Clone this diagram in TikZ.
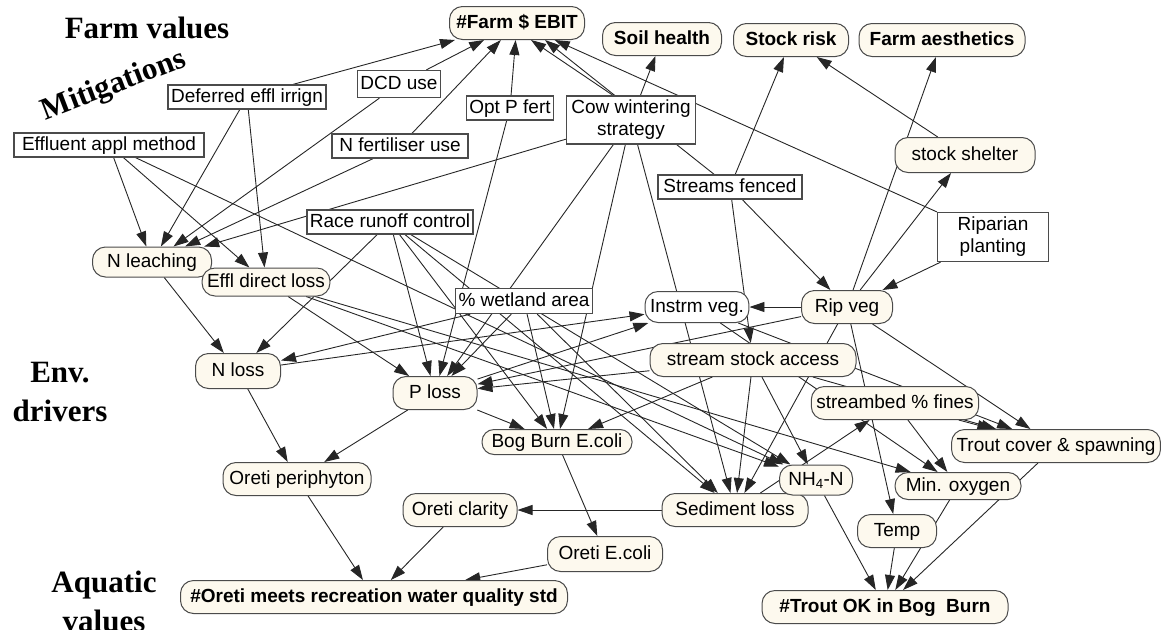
\documentclass[tikz,border=0pt]{standalone}
\usepackage{fontspec}
\setmainfont{Liberation Sans}
\newfontfamily\seriffont{Liberation Serif}
\usetikzlibrary{arrows.meta,backgrounds}
\definecolor{crema}{RGB}{253,249,238}
\definecolor{borde}{RGB}{75,75,75}
\newcommand{\letra}{\fontsize{19}{22}\selectfont}

\begin{document}
\begin{tikzpicture}[x=1pt, y=-1pt,
    caja/.style={draw=borde, line width=1.3pt, fill=white, font=\letra, inner xsep=3pt, inner ysep=1pt},
    mitig/.style={caja, text height=14pt, text depth=4pt, minimum height=24pt},
    estado/.style={draw=borde, line width=1pt, fill=crema, rounded corners=13pt, font=\letra,
                   inner xsep=5pt, inner ysep=1pt, text height=14pt, text depth=4pt, minimum height=33pt},
    valor/.style={estado, font=\bfseries\letra},
    titulo/.style={font=\seriffont\bfseries\fontsize{31}{39}\selectfont},
    linea/.style={{Triangle[length=15pt,width=10pt,sharp]}-, line width=0.9pt, black!85}]
        \useasboundingbox (0,0) rectangle (1169,629);
        % Titulos
        \node[titulo] (tfarm) at (147,28) {Farm values};
        \node[titulo, rotate=21] (tmitig) at (114,86) {Mitigations};
        \node[titulo, align=center] (tenv) at (60,392) {Env.\\drivers};
        \node[titulo, align=center] (taqua) at (104,601) {Aquatic\\values};
        % Valores
        \node[valor, minimum width=135pt] (ebit) at (517,23) {\#Farm \$ EBIT};
        \node[valor, minimum width=119pt] (soil) at (662,39) {Soil health};
        \node[valor, minimum width=115pt] (srisk) at (791,40) {Stock risk};
        \node[valor, minimum width=166pt] (aesth) at (942,40) {Farm aesthetics};
        \node[valor, minimum width=387pt] (oreti) at (374,597) {\#Oreti meets recreation water quality std};
        \node[valor, minimum width=246pt] (trout) at (885,607) {\#Trout OK in Bog\ \ Burn};
        % Mitigaciones
        \node[mitig, minimum width=157pt] (defer) at (247,97) {Deferred effl irrign};
        \node[mitig, minimum width=82pt, minimum height=27pt] (dcd) at (399,84) {DCD use};
        \node[mitig, minimum width=190pt] (effl) at (109,145) {Effluent appl method};
        \node[mitig, minimum width=136pt] (nfert) at (400,146) {N fertiliser use};
        \node[mitig, minimum width=85pt] (optp) at (510,108) {Opt P fert};
        \node[caja, align=center, minimum width=129pt, minimum height=48pt] (cow) at (631,120) {Cow wintering\\strategy};
        \node[mitig, minimum width=144pt] (sfenced) at (730,187) {Streams fenced};
        \node[caja, align=center, minimum width=111pt, minimum height=49pt] (riparian) at (993,237) {Riparian\\planting};
        \node[mitig, minimum width=165pt] (race) at (390,222) {Race runoff control};
        \node[mitig, minimum width=135pt, minimum height=25pt] (wetland) at (524,301) {\% wetland area};
        % Estados del ambiente
        \node[estado, minimum width=119pt, minimum height=30pt] (nleach) at (152,262) {N leaching};
        \node[estado, minimum width=124pt, minimum height=28pt] (edirect) at (266,282) {Effl direct loss};
        \node[estado, minimum width=85pt, minimum height=35pt] (nloss) at (238,371) {N loss};
        \node[estado, minimum width=84pt] (ploss) at (435,393) {P loss};
        \node[estado, minimum width=150pt, minimum height=25pt, rounded corners=12pt] (bogecoli) at (557,442) {Bog Burn E.coli};
        \node[estado, minimum width=148pt] (periph) at (297,479) {Oreti periphyton};
        \node[estado, minimum width=114pt] (clarity) at (460,510) {Oreti clarity};
        \node[estado, minimum width=115pt, minimum height=35pt] (oecoli) at (605,554) {Oreti E.coli};
        \node[estado, minimum width=146pt] (sedim) at (735,510) {Sediment loss};
        \node[estado, minimum width=73pt, minimum height=30pt] (nh4) at (816,480) {NH\textsubscript{4}-N};
        \node[estado, minimum width=126pt, minimum height=27pt] (minox) at (958,486) {Min. oxygen};
        \node[estado, minimum width=79pt] (temp) at (897,531) {Temp};
        \node[estado, minimum width=207pt] (tcover) at (1056,446) {Trout cover \& spawning};
        \node[estado, minimum width=166pt] (fines) at (895,403) {streambed \% fines};
        \node[estado, minimum width=206pt] (ssaccess) at (753,360) {stream stock access};
        \node[estado, minimum width=91pt] (ripveg) at (847,307) {Rip veg};
        \node[estado, fill=white, minimum width=101pt, minimum height=31pt] (instrm) at (697,307) {Instrm veg.};
        \node[estado, minimum width=140pt, minimum height=35pt] (shelter) at (965,155) {stock shelter};
        \begin{pgfonlayer}{background}
        % Hacia valores de granja
        \draw[linea] (ebit) -- (defer);
        \draw[linea] (ebit) -- (dcd);
        \draw[linea] (ebit) -- (nfert);
        \draw[linea] (ebit) -- (optp);
        \draw[linea] ([xshift=14pt]ebit.south) -- ([xshift=-18pt]cow.north);
        \draw[linea] ([xshift=28pt]ebit.south) -- (sfenced);
        \draw[linea] (ebit) -- (riparian);
        \draw[linea] (soil) -- (cow);
        \draw[linea] (srisk) -- (sfenced);
        \draw[linea] (srisk) -- (shelter);
        \draw[linea] (aesth) -- (ripveg);
        \draw[linea] (shelter) -- (ripveg);
        % Perdidas de N
        \draw[linea] (nleach) -- (effl);
        \draw[linea] (nleach) -- (defer);
        \draw[linea] (nleach) -- (dcd);
        \draw[linea] (nleach) -- (nfert);
        \draw[linea] (nleach) -- (cow);
        \draw[linea] (edirect) -- (effl);
        \draw[linea] (edirect) -- (defer);
        \draw[linea] (nloss) -- (nleach);
        \draw[linea] (nloss) -- (race);
        \draw[linea] (nloss) -- (wetland);
        % Perdidas de P
        \draw[linea] (ploss) -- (race);
        \draw[linea] (ploss) -- (optp);
        \draw[linea] (ploss) -- (cow);
        \draw[linea] (ploss) -- (wetland);
        \draw[linea] (ploss) -- (edirect);
        \draw[linea] (ploss) -- (ripveg);
        \draw[linea] (ploss) -- (ssaccess);
        % E.coli
        \draw[linea] (bogecoli) -- (ploss);
        \draw[linea] (bogecoli) -- (race);
        \draw[linea] (bogecoli) -- (wetland);
        \draw[linea] (bogecoli) -- (cow);
        \draw[linea] (bogecoli) -- (ssaccess);
        % Sedimento
        \draw[linea] (sedim) -- (race);
        \draw[linea] (sedim) -- (wetland);
        \draw[linea] (sedim) -- (cow);
        \draw[linea] (sedim) -- (ssaccess);
        \draw[linea] (sedim) -- (ripveg);
        % Amonio y oxigeno
        \draw[linea] (nh4) -- (effl);
        \draw[linea] (nh4) -- (edirect);
        \draw[linea] (nh4) -- (race);
        \draw[linea] (nh4) -- (ssaccess);
        \draw[linea] (minox) -- (edirect);
        \draw[linea] (minox) -- (instrm);
        \draw[linea] (minox) -- (fines);
        % Cauce
        \draw[linea] (tcover) -- (fines);
        \draw[linea] (tcover) -- (instrm);
        \draw[linea] (tcover) -- (ssaccess);
        \draw[linea] (tcover) -- (ripveg);
        \draw[linea] (fines) -- (sedim);
        \draw[linea] (temp) -- (ripveg);
        \draw[linea] (instrm) -- (ripveg);
        \draw[linea] (instrm) -- (nloss);
        \draw[linea] (instrm) -- (ploss);
        \draw[linea] (ssaccess) -- (sfenced);
        \draw[linea] (ripveg) -- (sfenced);
        \draw[linea] (ripveg) -- (riparian);
        % Valores acuaticos
        \draw[linea] (periph) -- (nloss);
        \draw[linea] (periph) -- (ploss);
        \draw[linea] (clarity) -- (sedim);
        \draw[linea] (oecoli) -- (bogecoli);
        \draw[linea] (oreti) -- (periph);
        \draw[linea] (oreti) -- (clarity);
        \draw[linea] (oreti) -- (oecoli);
        \draw[linea] (trout) -- (nh4);
        \draw[linea] (trout) -- (temp);
        \draw[linea] (trout) -- (minox);
        \draw[linea] (trout) -- (tcover);
        \end{pgfonlayer}
    \end{tikzpicture}
\end{document}
